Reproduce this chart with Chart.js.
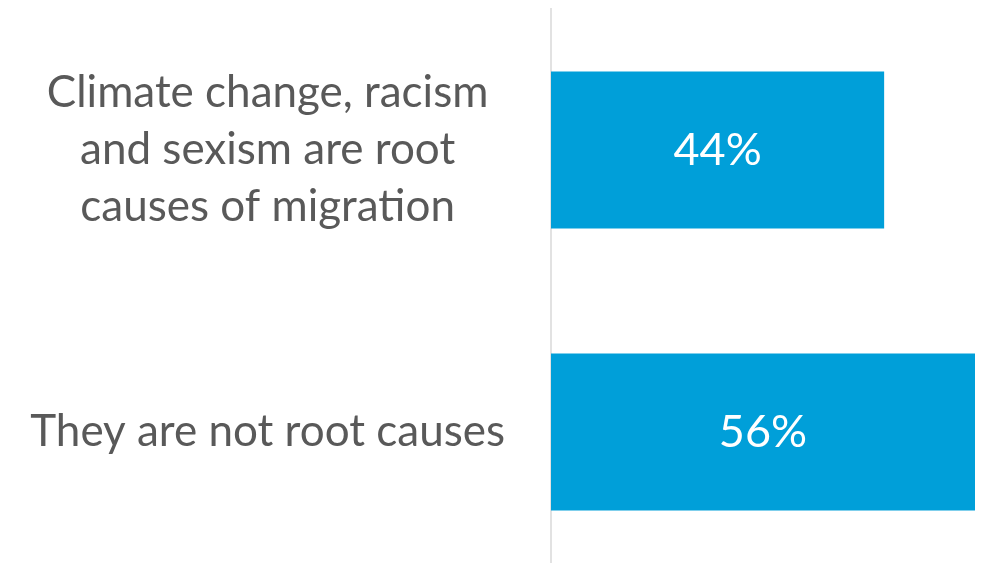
<!DOCTYPE html>
<html>
<head>
<meta charset="utf-8">
<script src="https://cdn.jsdelivr.net/npm/chart.js@4"></script>
<style>
  html, body { margin: 0; padding: 0; background: #fff; overflow: hidden; }
</style>
</head>
<body>
<canvas id="barChartCanvas" width="985" height="575"></canvas>
<script>
let categories = [
    ['Climate change, racism', 'and sexism are root', 'causes of migration'],
    'They are not root causes'
];
let shares = [44, 56];
let axisMax = 56;

// draws the percent text in the middle of each bar
let valueLabels = {
    id: 'valueLabels',
    afterDatasetsDraw: function (chart) {
        let ctx = chart.ctx;
        let meta = chart.getDatasetMeta(0);
        ctx.save();
        ctx.fillStyle = '#ffffff';
        ctx.font = '45px Lato';
        ctx.textAlign = 'center';
        ctx.textBaseline = 'middle';
        meta.data.forEach(function (bar, i) {
            let x = (bar.base + bar.x) / 2;
            ctx.fillText(shares[i] + '%', x, bar.y);
        });
        ctx.restore();
    }
};

window.onload = function () {
    let ctx = document.getElementById('barChartCanvas').getContext('2d');

    window.barChart = new Chart(ctx, {
        type: 'bar',
        data: {
            labels: categories,
            datasets: [{
                data: shares,
                backgroundColor: '#009fd9',
                categoryPercentage: 1,
                barPercentage: 0.557
            }]
        },
        options: {
            indexAxis: 'y',
            responsive: false,
            animation: false,
            layout: {
                padding: { top: 9, right: 10, bottom: 2, left: 0 }
            },
            plugins: {
                legend: { display: false },
                tooltip: { enabled: false }
            },
            scales: {
                x: {
                    display: false,
                    min: 0,
                    max: axisMax
                },
                y: {
                    afterFit: function (scale) {
                        scale.width = 551;
                        // tall multi-line labels should not shrink the plot
                        scale.paddingTop = 0;
                        scale.paddingBottom = 0;
                    },
                    grid: { display: false, drawTicks: false },
                    border: { display: true, color: '#e2e2e2', width: 2 },
                    ticks: {
                        crossAlign: 'center',
                        padding: 46,
                        color: '#595959',
                        font: { family: 'Lato', size: 44, lineHeight: 1.3 }
                    }
                }
            }
        },
        plugins: [valueLabels]
    });
};
</script>
</body>
</html>
